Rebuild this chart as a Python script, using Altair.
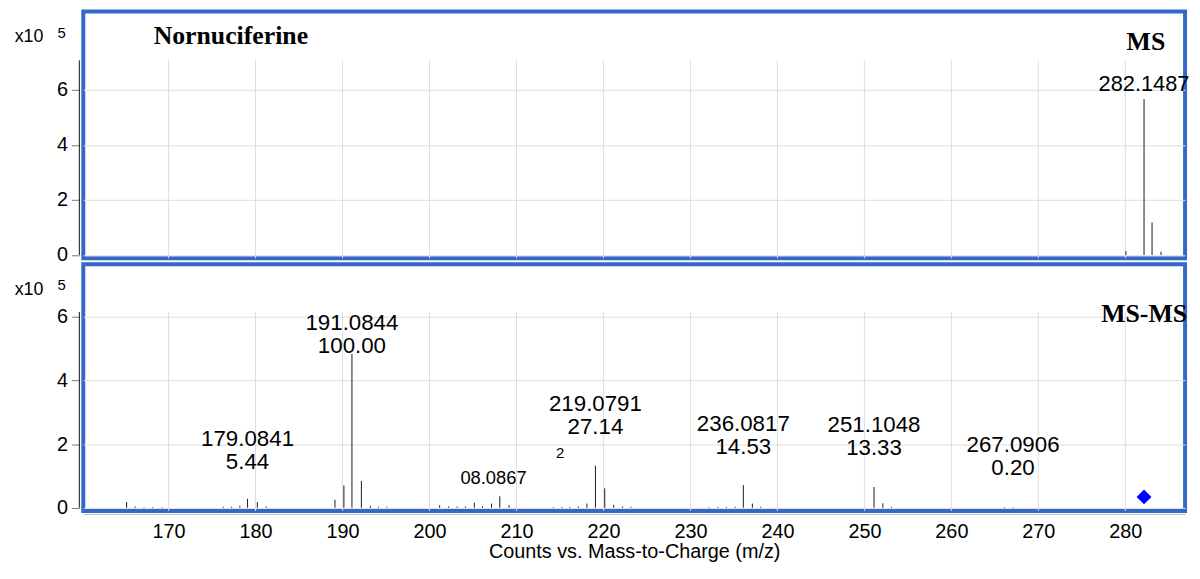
import altair as alt
import pandas as pd

# ---------------- data ----------------
# MS panel (intensity in x10^5 counts)
ms_mz = [280.07, 282.1487, 283.07, 284.10]
ms_int = [0.14, 5.66, 1.18, 0.12]

# MS-MS panel
msms_mz = [165.18, 166.16, 167.18, 168.17, 169.28,
           176.30, 177.25, 178.20, 179.0841, 180.21, 181.24,
           189.13, 190.16, 191.0844, 192.17, 193.20, 194.14, 195.09,
           201.17, 202.20, 203.18, 204.13, 205.16, 206.10, 207.13, 208.0867, 209.15,
           214.27, 215.22, 216.13, 217.12, 218.10, 219.0791, 220.15, 221.18, 222.20, 223.16,
           232.11, 233.18, 234.13, 235.15, 236.0817, 237.12, 238.08,
           251.1048, 252.12, 253.12,
           266.10, 267.0906]
msms_int = [0.18, 0.04, 0.02, 0.02, 0.02,
            0.03, 0.03, 0.06, 0.28, 0.18, 0.04,
            0.25, 0.70, 4.83, 0.84, 0.06, 0.03, 0.03,
            0.08, 0.04, 0.04, 0.04, 0.16, 0.05, 0.13, 0.36, 0.08,
            0.02, 0.03, 0.03, 0.04, 0.13, 1.32, 0.61, 0.09, 0.04, 0.03,
            0.02, 0.03, 0.03, 0.03, 0.71, 0.13, 0.03,
            0.65, 0.14, 0.03,
            0.02, 0.02]

# peak annotations
ms_lab_mz = [282.1487]
ms_lab_text = ["282.1487"]
ms_lab_y = [6.20]

lab_mz = [179.0841, 191.0844, 219.0791, 236.0817, 251.1048, 267.0906]
lab_mz_text = ["179.0841", "191.0844", "219.0791", "236.0817", "251.1048", "267.0906"]
lab_pct_text = ["5.44", "100.00", "27.14", "14.53", "13.33", "0.20"]
lab_y = [1.45, 5.09, 2.53, 1.92, 1.89, 1.24]

# clipped (overlapping) annotation fragments
frag_mz = [207.36, 215.03]
frag_text = ["08.0867", "2"]
frag_y = [0.93, 1.72]
frag_size = [18.5, 15]

# precursor marker
prec_mz = [282.1487]
prec_y = [0.34]

grid_mz = [170, 180, 190, 200, 210, 220, 230, 240, 250, 260, 270, 280]
y_ticks = [0, 2, 4, 6]

# ---------------- layout constants ----------------
W = 1112
H = 249
PXU = 8.779
X0 = 160.2
XDOM = [X0, X0 + W / PXU]
BLUE = "#3468C6"
FONT = "Liberation Sans"
SERIF = "Liberation Serif"
XTITLE = "Counts vs. Mass-to-Charge (m/z)"

xs = alt.Scale(domain=XDOM, nice=False, zero=False)


def panel(peak_mz, peak_int, ydom, grid_top, title_rows, show_x, label_layers, extra=None):
    ys = alt.Scale(domain=ydom, nice=False, zero=False)
    yax = alt.Axis(values=y_ticks, grid=True, gridColor="#dedede", domain=False,
                   ticks=True, tickColor="#777", tickSize=8, offset=4,
                   labelPadding=4, labelFont=FONT, labelFontSize=20,
                   labelColor="black", title=None)
    if show_x:
        xax = alt.Axis(values=grid_mz, grid=False, ticks=False, domain=True,
                       domainColor="#bbbbbb", offset=3, labelPadding=8,
                       labelFont=FONT, labelFontSize=20, labelColor="black",
                       labelFlush=False,
                       title=XTITLE, titleFont=FONT,
                       titleFontSize=20, titleFontWeight="normal",
                       titleColor="black", titlePadding=0)
    else:
        xax = None
    xe = alt.X("mz:Q", scale=xs, axis=xax, title=XTITLE)
    ye = alt.Y("y:Q", scale=ys, axis=yax, title=None)

    peaks = pd.DataFrame({"mz": peak_mz, "y": peak_int, "y0": [0.0] * len(peak_mz)})
    base = alt.Chart(peaks).mark_rule(color="#1a1a1a", strokeWidth=1).encode(
        x=xe, y=ye, y2="y0:Q")

    grid = pd.DataFrame({"mz": grid_mz, "y": [grid_top] * len(grid_mz),
                         "y0": [ydom[0]] * len(grid_mz)})
    vgrid = alt.Chart(grid).mark_rule(color="#dedede", strokeWidth=1).encode(
        x=xe, y=ye, y2="y0:Q")

    axl = pd.DataFrame({"y": [grid_top], "y0": [0.0]})
    axline = alt.Chart(axl).mark_rule(color="#111", strokeWidth=1).encode(
        x=alt.value(-4), y=ye, y2="y0:Q")

    layers = [vgrid, base, axline]
    for (txt, px, py, size, font, weight, align, baseline) in title_rows:
        d = pd.DataFrame({"t": [txt]})
        layers.append(alt.Chart(d).mark_text(
            font=font, fontSize=size, fontWeight=weight, align=align,
            baseline=baseline, color="black").encode(
            x=alt.value(px), y=alt.value(py), text="t:N"))
    for (df, size, dy) in label_layers:
        layers.append(alt.Chart(df).mark_text(
            font=FONT, fontSize=size, baseline="middle", align="center",
            dy=dy, color="black").encode(x=xe, y=ye, text="t:N"))
    if extra is not None:
        layers.append(extra(xe, ye))
    return alt.layer(*layers).properties(width=W, height=H)


# top panel
top_titles = [
    ("x10", -69.3, 26, 18, FONT, "normal", "left", "middle"),
    ("5", -26, 22, 15, FONT, "normal", "left", "middle"),
    ("Nornuciferine", 71, 33, 26, SERIF, "bold", "left", "alphabetic"),
    ("MS", 1053, 38.3, 26, SERIF, "bold", "left", "alphabetic"),
]
top_labels = [
    (pd.DataFrame({"mz": ms_lab_mz, "y": ms_lab_y, "t": ms_lab_text}), 22, 0),
]
top = panel(ms_mz, ms_int, [-0.12, 8.84], 7.07, top_titles, False, top_labels)

# bottom panel
bot_titles = [
    ("x10", -69.3, 26.5, 18, FONT, "normal", "left", "middle"),
    ("5", -26, 21.3, 15, FONT, "normal", "left", "middle"),
    ("MS-MS", 1114, 58, 26, SERIF, "bold", "right", "alphabetic"),
]
bot_labels = [
    (pd.DataFrame({"mz": lab_mz, "y": lab_y, "t": lab_mz_text}), 22.5, -23),
    (pd.DataFrame({"mz": lab_mz, "y": lab_y, "t": lab_pct_text}), 22.5, 0),
    (pd.DataFrame({"mz": frag_mz[:1], "y": frag_y[:1], "t": frag_text[:1]}), frag_size[0], 0),
    (pd.DataFrame({"mz": frag_mz[1:], "y": frag_y[1:], "t": frag_text[1:]}), frag_size[1], 0),
]


def precursor(xe, ye):
    prec = pd.DataFrame({"mz": prec_mz, "y": prec_y})
    return alt.Chart(prec).mark_point(shape="diamond", filled=True, color="#0000ff",
                                      size=225, opacity=1).encode(x=xe, y=ye)


bottom = panel(msms_mz, msms_int, [-0.10, 7.65], 6.15, bot_titles, True, bot_labels,
               extra=precursor)

chart = alt.vconcat(top, bottom, spacing=6, bounds="flush").configure_view(
    stroke=BLUE, strokeWidth=4).properties(
    padding={"left": 4, "top": -1, "right": 0, "bottom": 0})

chart.save("out.html", embed_options={"renderer": "svg", "actions": False})
